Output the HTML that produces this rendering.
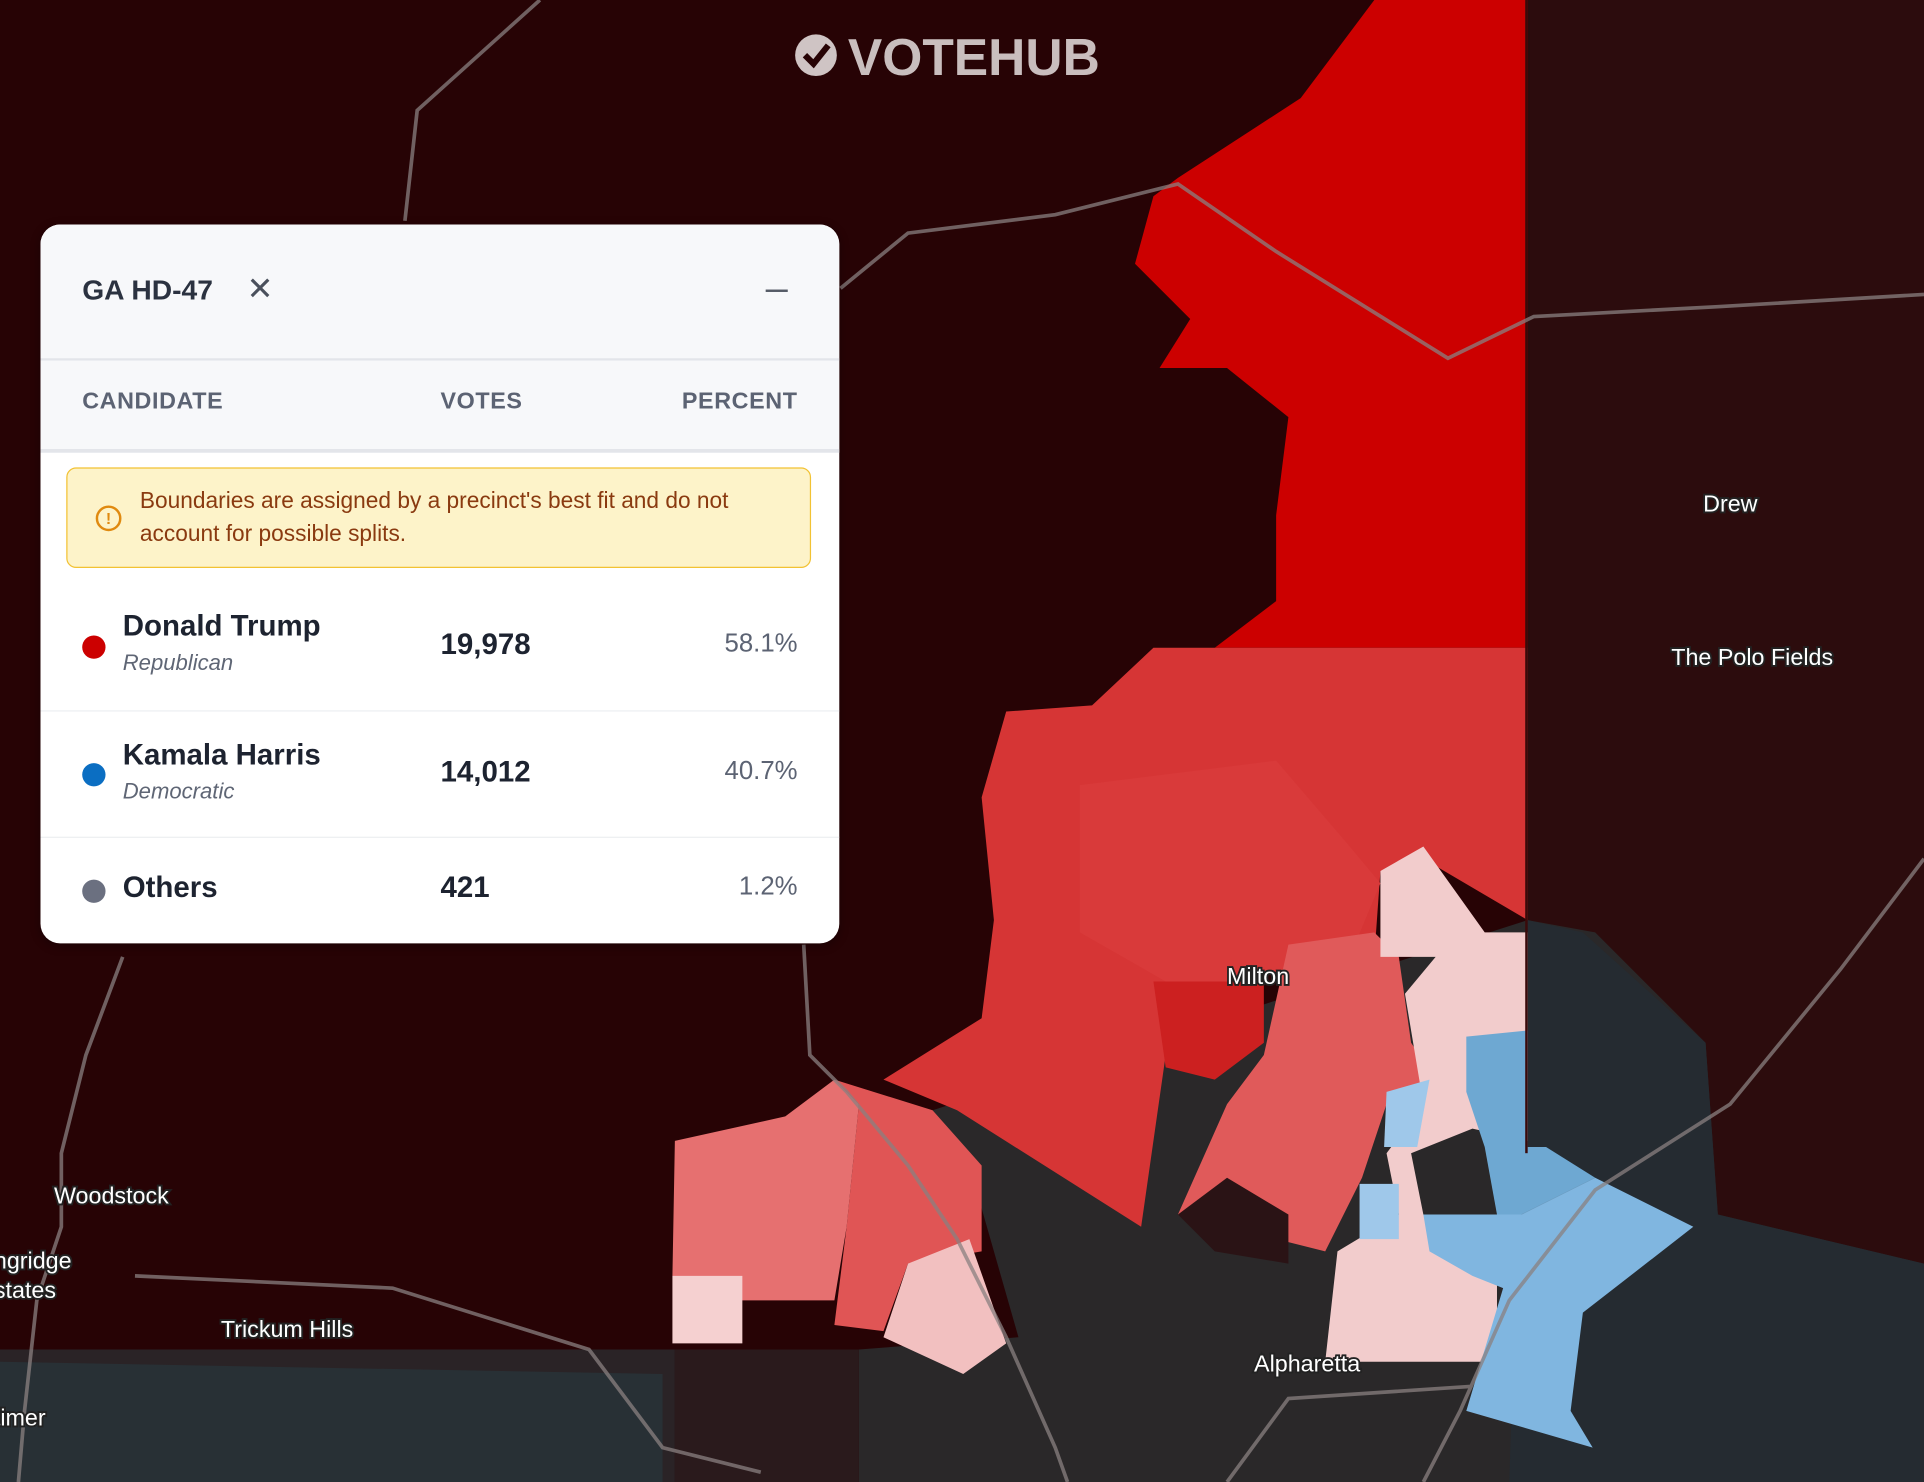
<!DOCTYPE html>
<html><head><meta charset="utf-8"><style>
html,body{margin:0;padding:0;background:#270305;overflow:hidden;width:1924px;height:1482px}
#w{position:absolute;left:0;top:0;width:1568px;height:1208px;transform:scale(1.22704,1.2268);transform-origin:0 0;font-family:"Liberation Sans",sans-serif}
svg{position:absolute;left:0;top:0}
.p{position:absolute;left:33px;top:183px;width:651px;height:586px;background:#fff;border-radius:16px;overflow:hidden;box-shadow:0 2px 8px rgba(0,0,0,.3)}
.hd{height:109px;background:#f7f8fa;border-bottom:2px solid #e3e5ea;position:relative}
.t{position:absolute;left:34px;top:40px;font-size:23px;font-weight:bold;color:#2b3240}
.x{position:absolute;left:168px;top:37px;font-size:26px;color:#4a505c}
.m{position:absolute;right:42px;top:53px;width:18px;height:2px;background:#555b66}
.ch{height:72px;background:#f7f8fa;border-bottom:3px solid #e3e5ea;position:relative;font-size:19px;color:#5c6373;letter-spacing:.5px;font-weight:bold}
.ch span{position:absolute;top:23px}
.wa{position:absolute;left:21px;top:198px;width:605px;height:80px;background:#fdf3c9;border:1.5px solid #f2c233;border-radius:8px;color:#8a3a10;font-size:18.5px;line-height:27px}
.wa .i{position:absolute;left:23px;top:30px;width:17px;height:17px;border:2px solid #e08a10;border-radius:50%;color:#e08a10;font-size:13px;line-height:17px;text-align:center;font-weight:bold}
.wa .tx{position:absolute;left:59px;top:12px;width:530px}
.r{position:absolute;left:0;width:651px;border-top:1.5px solid #eceef1}
.d{position:absolute;left:34px;width:19px;height:19px;border-radius:50%}
.n{position:absolute;left:67px;font-size:24px;color:#1d2330;font-weight:bold}
.pa{position:absolute;left:67px;font-size:18px;color:#5f6675;font-style:italic}
.v{position:absolute;left:326px;font-size:24px;font-weight:bold;color:#1d2330}
.pc{position:absolute;right:34px;font-size:21px;color:#5c6373}
</style></head><body><div id="w">
<svg width="1568" height="1208" viewBox="0 0 1568 1208">
<rect width="1568" height="1208" fill="#270305"/>
<rect x="1245" y="0" width="323" height="1050" fill="#2c0c0d"/>
<path d="M0 1100 L550 1100 L550 1208 L0 1208Z" fill="#2a2326"/>
<path d="M0 1110 L540 1120 L540 1208 L0 1208Z" fill="#283035"/>
<path d="M550 1100 L700 1100 L700 1208 L550 1208Z" fill="#2a1a1c"/>
<path d="M1245 750 L1300 760 L1390 850 L1400 990 L1568 1030 L1568 1208 L700 1208 L700 1100 L830 1090 L790 950 L760 905Z" fill="#2a2829"/>
<path d="M1245 750 L1290 760 L1390 850 L1400 990 L1568 1030 L1568 1208 L1230 1208Z" fill="#252b31"/>
<path d="M1120 0 L1245 0 L1245 528 L990 528 L1040 490 L1040 420 L1050 340 L1000 300 L945 300 L970 260 L925 215 L940 160 L960 145 L1060 80Z" fill="#cc0000"/>
<path d="M940 528 L1245 528 L1245 750 L1160 700 L1125 710 L1120 780 L1050 770 L1000 800 L950 860 L930 1000 L780 905 L720 880 L800 830 L810 750 L800 650 L820 580 L890 575Z" fill="#d63535"/>
<path d="M880 640 L1040 620 L1100 690 L1125 720 L1100 780 L1000 800 L950 800 L880 760Z" fill="#d93a3a"/>
<path d="M940 800 L1030 800 L1030 850 L990 880 L950 870Z" fill="#cc2020"/>
<path d="M1050 770 L1120 760 L1140 780 L1150 850 L1170 880 L1130 900 L1110 960 L1080 1020 L1000 1000 L960 990 L1000 900 L1030 860Z" fill="#e05a5a"/>
<path d="M1125 710 L1160 690 L1210 760 L1245 760 L1245 930 L1200 920 L1150 940 L1160 990 L1220 990 L1220 1110 L1080 1110 L1090 1020 L1140 990 L1130 940 L1160 900 L1145 810 L1170 780 L1125 780Z" fill="#f2cccc"/>
<path d="M1195 845 L1245 840 L1245 935 L1210 935 L1195 890Z" fill="#6ea8d2"/>
<path d="M1130 890 L1165 880 L1155 935 L1128 935Z" fill="#9fc8ea"/>
<path d="M1210 935 L1260 935 L1300 960 L1240 990 L1220 990Z" fill="#6ea8d2"/>
<path d="M1160 990 L1240 990 L1300 960 L1380 1000 L1290 1070 L1280 1150 L1298 1180 L1195 1150 L1225 1050 L1200 1040 L1165 1020Z" fill="#80b6e0"/>
<path d="M1108 965 L1140 965 L1140 1010 L1108 1010Z" fill="#9fc8ea"/>
<path d="M680 880 L760 905 L800 950 L800 1020 L740 1030 L720 1085 L680 1080 L690 1000 L700 900Z" fill="#e05555"/>
<path d="M680 880 L700 900 L690 1000 L680 1060 L600 1060 L548 1040 L550 930 L640 910Z" fill="#e67070"/>
<path d="M740 1030 L790 1010 L820 1095 L785 1120 L720 1090Z" fill="#f2c0c0"/>
<path d="M548 1040 L605 1040 L605 1095 L548 1095Z" fill="#f5d0d0"/>
<path d="M960 990 L1000 960 L1050 990 L1050 1030 L990 1020Z" fill="#2a1315"/>
<rect x="1243" y="0" width="2" height="940" fill="#3a0a0a"/>
<g fill="none" stroke="#8a8080" stroke-width="3" opacity=".75">
<path d="M440 0 L340 90 L330 180"/><path d="M685 235 L740 190 L860 175 L960 150 L1040 205 L1180 292 L1250 258 L1400 250 L1568 240"/>
<path d="M655 770 L660 860 L690 890 L740 950 L780 1010 L820 1090 L860 1180 L870 1208"/>
<path d="M100 780 L70 860 L50 940 L50 1000 L30 1060 L20 1150 L15 1208"/>
<path d="M1568 700 L1500 790 L1410 900 L1300 970 L1230 1060 L1190 1150 L1160 1208"/>
<path d="M110 1040 L320 1050 L480 1100 L540 1180 L620 1200"/><path d="M1000 1208 L1050 1140 L1200 1130"/>
</g>
<g font-family="Liberation Sans,sans-serif" font-weight="bold" fill="#cfc4c4">
<circle cx="665" cy="45" r="17"/><path d="M656 45 L663 52 L675 37" stroke="#270305" stroke-width="5" fill="none"/>
<text x="691" y="61" font-size="42" fill="#c9bebe">VOTEHUB</text></g>
<g font-family="Liberation Sans,sans-serif" font-size="19" fill="#fff" stroke="#222" stroke-width="3" paint-order="stroke">
<text x="1388" y="417">Drew</text><text x="1362" y="542">The Polo Fields</text><text x="1000" y="802">Milton</text>
<text x="44" y="981">Woodstock</text><text x="-5" y="1034">ngridge</text><text x="-5" y="1058">states</text>
<text x="180" y="1090">Trickum Hills</text><text x="1022" y="1118">Alpharetta</text><text x="-5" y="1162">timer</text></g>
</svg>
<div class="p">
<div class="hd"><div class="t">GA HD-47</div><div class="x">✕</div><div class="m"></div></div>
<div class="ch"><span style="left:34px">CANDIDATE</span><span style="left:326px">VOTES</span><span style="right:34px">PERCENT</span></div>
<div class="wa"><div class="i">!</div><div class="tx">Boundaries are assigned by a precinct's best fit and do not account for possible splits.</div></div>
<div class="r" style="top:292px;border:0"><div class="d" style="top:43px;background:#cc0000"></div><div class="n" style="top:22px">Donald Trump</div><div class="pa" style="top:55px">Republican</div><div class="v" style="top:37px">19,978</div><div class="pc" style="top:38px">58.1%</div></div>
<div class="r" style="top:396px"><div class="d" style="top:42px;background:#0b6ec2"></div><div class="n" style="top:22px">Kamala Harris</div><div class="pa" style="top:55px">Democratic</div><div class="v" style="top:36px">14,012</div><div class="pc" style="top:37px">40.7%</div></div>
<div class="r" style="top:499px"><div class="d" style="top:34px;background:#6b7080"></div><div class="n" style="top:27px">Others</div><div class="v" style="top:27px">421</div><div class="pc" style="top:28px">1.2%</div></div>
</div>
</div></body></html>
